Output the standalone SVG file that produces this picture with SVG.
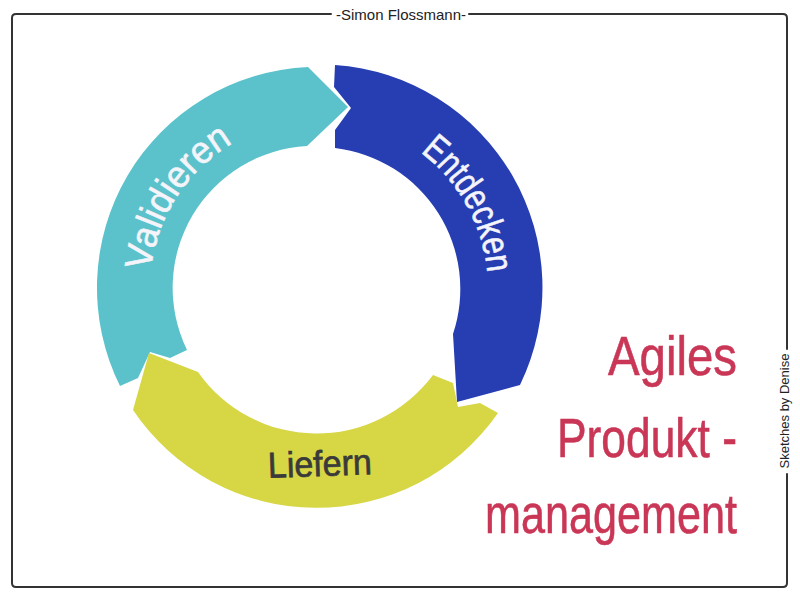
<svg xmlns="http://www.w3.org/2000/svg" width="800" height="600" viewBox="0 0 800 600">
<style>
  .frame { fill: none; stroke: #333; stroke-width: 2; stroke-linecap: round; stroke-linejoin: round; }
  .small { font-family: "Liberation Sans", Arial, sans-serif; fill: #222; }
  .seg-label { font-family: "Liberation Sans", Arial, sans-serif; font-size: 38px; fill: #F4F4FA; stroke: #F4F4FA; stroke-width: 0.6; }
  .pink { font-family: "Liberation Sans", Arial, sans-serif; font-size: 56px; fill: #C93656; stroke: #C93656; stroke-width: 0.6; }
</style>
<defs>
  <path id="arcValidieren" d="M 150.9,270.4 A 168 168 0 0 1 294.6,121.6"/>
  <path id="arcEntdecken" d="M 420.3,152.2 A 170 170 0 0 1 477.7,346.1"/>
</defs>
<rect width="800" height="600" fill="#ffffff"/>

<g id="frame">
  <path class="frame" d="M 331,14 H 16 Q 12,14 12,18 V 583 Q 12,587 16,587 H 783 Q 787,587 787,583 V 474 M 787,349 V 18 Q 787,14 783,14 H 469"/>
</g>

<g id="author">
  <text class="small" x="401" y="20" font-size="15" text-anchor="middle">-Simon Flossmann-</text>
</g>

<g id="credit">
  <text class="small" transform="translate(788.5,411) rotate(-90)" font-size="13" text-anchor="middle">Sketches by Denise</text>
</g>

<g id="node-validieren">
  <path d="M 120,386 A 221 221 0 0 1 308,67 L 348,107 L 307,146 A 142 142 0 0 0 187,350 L 170,358 L 150,352 L 138,378 Z" fill="#5BC2CB"/>
  <text class="seg-label"><textPath href="#arcValidieren" textLength="157" lengthAdjust="spacingAndGlyphs">Validieren</textPath></text>
</g>

<g id="node-entdecken">
  <path d="M 335,65 A 223 223 0 0 1 520,385 L 457,402 L 453,334 A 142 142 0 0 0 335,148 L 335,130 L 351,108 L 334,87 Z" fill="#263EB2"/>
  <text class="seg-label"><textPath href="#arcEntdecken" textLength="142" lengthAdjust="spacingAndGlyphs">Entdecken</textPath></text>
</g>

<g id="node-liefern">
  <path d="M 498,413 A 221 221 0 0 1 133,410 L 149,353 L 198,372 A 145 145 0 0 0 433,375 L 453,383 L 458,407 L 480,403 Z" fill="#D7D645"/>
  <text x="268" y="476" transform="rotate(-2 320 470)" font-family="Liberation Sans, Arial, sans-serif" font-size="36" fill="#3A3A3A" stroke="#3A3A3A" stroke-width="0.7" textLength="104" lengthAdjust="spacingAndGlyphs">Liefern</text>
</g>

<g id="title">
  <text class="pink" transform="translate(608,375) scale(0.846,1)">Agiles</text>
  <text class="pink" transform="translate(557,457) scale(0.792,1)">Produkt -</text>
  <text class="pink" transform="translate(485,533) scale(0.771,1)">management</text>
</g>
</svg>
